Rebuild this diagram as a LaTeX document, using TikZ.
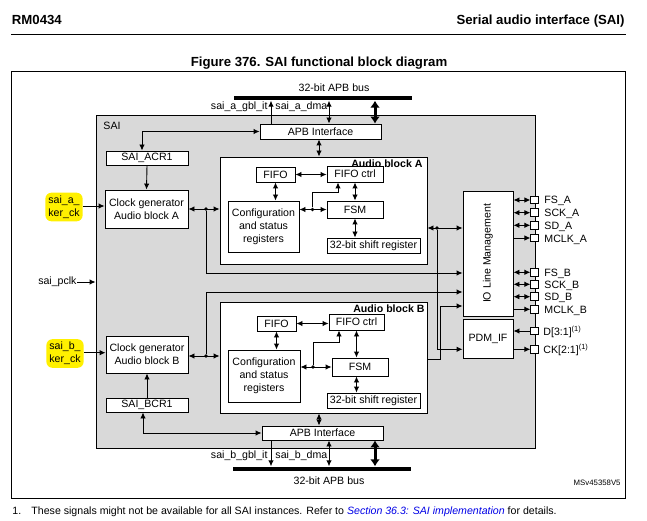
\documentclass[tikz,border=0pt]{standalone}
\usepackage{fontspec}
\setmainfont{Liberation Sans}
\usetikzlibrary{arrows.meta}

\definecolor{saigray}{RGB}{217,217,217}
\definecolor{hlyellow}{RGB}{255,240,0}
\definecolor{linkblue}{RGB}{0,0,230}
\newcommand{\dfont}{\fontsize{10.6}{12.8}\selectfont}
\newcommand{\hfont}{\fontsize{13.2}{15}\selectfont\bfseries}

\tikzset{
  blk/.style={draw, fill=white, inner sep=0pt, align=center},
  txt/.style={inner sep=0pt, align=center},
  hl/.style={fill=hlyellow, rounded corners=6pt, inner sep=3pt, align=center},
  bus/.style={fill=black, inner sep=0pt, minimum height=4.5pt},
  fat/.style={<->, line width=3pt, >={Latex[length=7pt,width=10pt]}},
  padbox/.style={draw, fill=white, inner sep=0pt, minimum size=7.7pt},
  dot/.style={circle, fill, inner sep=0pt, minimum size=3.8pt}
}

\begin{document}
\begin{tikzpicture}[x=1pt, y=-1pt, font=\dfont, line width=0.9pt,
    >={Latex[length=6pt,width=5.5pt]}]
\useasboundingbox (0,0) rectangle (647,521);

\node[txt, anchor=base west, font=\hfont] (rm) at (11.5,25) {RM0434};
\node[txt, anchor=base east, font=\hfont] (chap) at (625,25) {Serial audio interface (SAI)};
\draw (11,34) -- (626,34);
\node[txt, anchor=base, font=\hfont] (fig) at (319,66.5) {Figure 376. SAI functional block diagram};
\draw (11,71) rectangle (625,498);

\node[blk, fill=saigray, minimum width=439, minimum height=333] (sai) at (315.5,281.5) {};
\node[txt, anchor=base west] (sailbl) at (103,130) {SAI};

\node[bus, minimum width=178] (busA) at (323,98) {};
\node[bus, minimum width=178] (busB) at (322,469) {};
\node[txt, anchor=base] (busAlbl) at (334,91.5) {32-bit APB bus};
\node[txt, anchor=base] (busBlbl) at (329,484) {32-bit APB bus};
\node[txt, anchor=base east] (itA) at (268,109.5) {sai\_a\_gbl\_it};
\node[txt, anchor=base west] (dmaA) at (275,109.5) {sai\_a\_dma};
\node[txt, anchor=base east] (itB) at (268,458) {sai\_b\_gbl\_it};
\node[txt, anchor=base west] (dmaB) at (275,458) {sai\_b\_dma};

\node[blk, minimum width=121, minimum height=15] (apbA) at (320.5,131.5) {APB Interface};
\node[blk, minimum width=121, minimum height=14] (apbB) at (322.5,433) {APB Interface};

\node[blk, minimum width=82, minimum height=14] (acr) at (147,158) {SAI\_ACR1};
\node[blk, minimum width=83, minimum height=38] (clkA) at (146.5,209) {Clock generator\\Audio block A};
\node[blk, minimum width=82, minimum height=14] (bcr) at (147,405) {SAI\_BCR1};
\node[blk, minimum width=82, minimum height=37] (clkB) at (147,354.5) {Clock generator\\Audio block B};
\node[hl] (kerA) at (64,207) {sai\_a\_\\ker\_ck};
\node[hl] (kerB) at (65,353.5) {sai\_b\_\\ker\_ck};
\node[txt, anchor=east] (pclk) at (77,282) {sai\_pclk};

\node[blk, minimum width=207, minimum height=107] (audA) at (323.5,210.5) {};
\node[txt, anchor=base east, font=\dfont\bfseries] (audAlbl) at (423,167.5) {Audio block A};
\node[blk, minimum width=39, minimum height=15] (fifoA) at (275.5,174.5) {FIFO};
\node[blk, minimum width=56, minimum height=16] (fifocA) at (355,174) {FIFO ctrl};
\node[blk, minimum width=71, minimum height=51] (cfgA) at (263.5,226.5) {Configuration\\and status\\registers};
\node[blk, minimum width=56, minimum height=17] (fsmA) at (355,209.5) {FSM};
\node[blk, minimum width=93, minimum height=15] (shiftA) at (373.5,245.5) {32-bit shift register};

\node[blk, minimum width=207, minimum height=111] (audB) at (323.5,357.5) {};
\node[txt, anchor=base east, font=\dfont\bfseries] (audBlbl) at (425,312.5) {Audio block B};
\node[blk, minimum width=39, minimum height=15] (fifoB) at (276.5,323.5) {FIFO};
\node[blk, minimum width=55, minimum height=16] (fifocB) at (356.5,322) {FIFO ctrl};
\node[blk, minimum width=72, minimum height=52] (cfgB) at (264,376) {Configuration\\and status\\registers};
\node[blk, minimum width=56, minimum height=18] (fsmB) at (360,367) {FSM};
\node[blk, minimum width=93, minimum height=15] (shiftB) at (373.5,400.5) {32-bit shift register};

\node[blk, minimum width=50, minimum height=125] (io) at (488,253.5) {};
\node[txt, rotate=90] (iolbl) at (io.center) {IO Line Management};
\node[blk, minimum width=50, minimum height=39] (pdm) at (488,338.5) {PDM\_IF};

\foreach \n/\y/\t in {FSA/200/FS\_A, SCKA/212.7/SCK\_A, SDA/225.3/SD\_A,
    FSB/272.3/FS\_B, SCKB/284.3/SCK\_B, SDB/296.7/SD\_B}{
  \node[padbox] (p\n) at (534.7,\y) {};
  \node[txt, anchor=base west] (l\n) at (544,\y+4) {\t};
  \draw[<->] (io.east |- p\n) -- (p\n.west);
}
\node[padbox] (pMCA) at (534.7,238) {};
\node[txt, anchor=base west] (lMCA) at (544,242) {MCLK\_A};
\node[padbox] (pMCB) at (534.7,309.3) {};
\node[txt, anchor=base west] (lMCB) at (544,313.3) {MCLK\_B};
\node[padbox] (pD) at (534.7,331) {};
\node[txt, anchor=base west] (lD) at (543,335) {D[3:1]\textsuperscript{(1)}};
\node[padbox] (pCK) at (534.7,349.3) {};
\node[txt, anchor=base west] (lCK) at (543,353.3) {CK[2:1]\textsuperscript{(1)}};
\draw[->] (io.east |- pMCA) -- (pMCA.west);
\draw[->] (io.east |- pMCB) -- (pMCB.west);
\draw[->] (pD.west) -- (pdm.east |- pD);
\draw[->] (pdm.east |- pCK) -- (pCK.west);

\coordinate (xit) at (271,0);
\coordinate (xdma) at (329,0);
\coordinate (xbus) at (375,0);
\coordinate (xreg) at (319,0);
\coordinate (xacr) at (142,0);
\coordinate (xbcr) at (143,0);

\draw[->] (apbA.north -| xit) -- (busA.south -| xit);
\draw[<->] (apbA.north -| xdma) -- (busA.south -| xdma);
\draw[fat] (apbA.north -| xbus) -- (busA.south -| xbus);
\draw[<->] (apbA.south -| xreg) -- (audA.north -| xreg);
\draw[<->] (apbA.west) -| (acr.north -| xacr);
\draw[->] (acr.south) -- (clkA.north);

\draw[->] (apbB.south -| xit) -- (busB.north -| xit);
\draw[<->] (apbB.south -| xdma) -- (busB.north -| xdma);
\draw[fat] (apbB.south -| xbus) -- (busB.north -| xbus);
\draw[<->] (apbB.north -| xreg) -- (audB.south -| xreg);
\draw[<->] (apbB.west) -| (bcr.south -| xbcr);
\draw[->] (bcr.north) -- (clkB.south);

\draw[->] (kerA.east |- 0,206) -- (clkA.west |- 0,206);
\draw[->] (kerB.east |- 0,352.7) -- (clkB.west |- 0,352.7);
\draw[->] (pclk.east) -- (pclk.east -| sai.west);

\node[dot] (dA) at (206,209) {};
\coordinate (tA) at (206,273);
\draw[<->] (clkA.east) -- (audA.west |- clkA.east);
\draw[->] (dA) -- (tA) -- (tA -| io.west);
\node[dot] (dB) at (206,356) {};
\coordinate (tB) at (206,292);
\draw[<->] (clkB.east |- dB) -- (audB.west |- dB);
\draw[->] (dB) -- (tB) -- (tB -| io.west);

\node[dot] (dR) at (437,228) {};
\draw[<->] (audA.east |- dR) -- (io.west |- dR);
\draw[->] (dR) |- (pdm.west |- pCK);
\coordinate (bB) at (440,306);
\draw[->] (audB.east |- 0,359) -| (bB) -- (bB -| io.west);

\draw[<->] (fifoA.east) -- (fifoA.east -| fifocA.west);
\draw[<->] (fifoA.south) -- (fifoA.south |- cfgA.north);
\draw[<->] (fifocA.south) -- (fifocA.south |- fsmA.north);
\draw[<->] (fsmA.south) -- (fsmA.south |- shiftA.north);
\draw[<->] (cfgA.east |- fsmA.west) -- (fsmA.west);
\node[dot] (cA) at (312.5,209.5) {};
\coordinate (kA) at (338,192);
\draw[->] (cA) |- (kA) -- (kA |- fifocA.south);

\draw[<->] (fifoB.east) -- (fifoB.east -| fifocB.west);
\draw[<->] (fifoB.south) -- (fifoB.south |- cfgB.north);
\draw[<->] (fifocB.south) -- (fifocB.south |- fsmB.north);
\draw[<->] (fsmB.south -| fifocB.south) -- (fifocB.south |- shiftB.north);
\draw[<->] (cfgB.east |- fsmB.west) -- (fsmB.west);
\node[dot] (cB) at (313,367) {};
\coordinate (kB) at (339,342);
\draw[->] (cB) |- (kB) -- (kB |- fifocB.south);

\node[txt, anchor=base east, font=\fontsize{7.8}{9}\selectfont] (ref) at (621,485.5) {MSv45358V5};
\node[txt, anchor=base west] (fnnum) at (12,514.5) {1.};
\node[txt, anchor=base west] (fn) at (31,514.5) {These signals might not be available for all SAI instances. Refer to \textcolor{linkblue}{\itshape Section 36.3: SAI implementation} for details.};
\end{tikzpicture}
\end{document}
